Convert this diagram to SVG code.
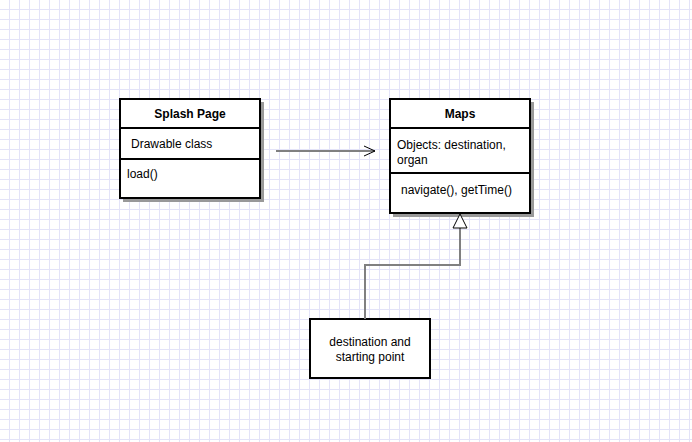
<svg xmlns="http://www.w3.org/2000/svg" width="692" height="442" viewBox="0 0 692 442">
<defs>
<pattern id="grid" width="10" height="10" patternUnits="userSpaceOnUse" x="0" y="0">
<path d="M9.5 0V10M0 9.5H10" fill="none" stroke="#e3e3f8" stroke-width="1"/>
</pattern>
<marker id="open" markerWidth="14" markerHeight="12" refX="12" refY="6" orient="auto" markerUnits="userSpaceOnUse">
<path d="M1 1L12 6L1 11" fill="none" stroke="#000" stroke-width="1"/>
</marker>
<marker id="tri" markerWidth="18" markerHeight="16" refX="15" refY="8" orient="auto" markerUnits="userSpaceOnUse">
<path d="M1 1L15 8L1 15Z" fill="#fff" stroke="#000" stroke-width="1"/>
</marker>
</defs>
<style>
.box{fill:#fff;stroke:#000;stroke-width:2}
.shadow{fill:#999}
.sep{stroke:#000;stroke-width:2}
.t{font-family:"Liberation Sans",Arial,sans-serif;font-size:12px;fill:#000}
.b{font-weight:bold}
.conn{fill:none;stroke:#808080;stroke-width:2}
</style>
<rect width="692" height="442" fill="#fff"/>
<rect width="692" height="442" fill="url(#grid)"/>
<g id="splash">
<rect class="shadow" x="123" y="102" width="141" height="100"/>
<rect class="box" x="120" y="99" width="140" height="99"/>
<line class="sep" x1="120" y1="128" x2="260" y2="128"/>
<line class="sep" x1="120" y1="159" x2="260" y2="159"/>
<text class="t b" x="190" y="118" text-anchor="middle">Splash Page</text>
<text class="t" x="131" y="148">Drawable class</text>
<text class="t" x="127" y="178">load()</text>
</g>
<g id="maps">
<rect class="shadow" x="393" y="102" width="141" height="115"/>
<rect class="box" x="390" y="99" width="140" height="114"/>
<line class="sep" x1="390" y1="128" x2="530" y2="128"/>
<line class="sep" x1="390" y1="173" x2="530" y2="173"/>
<text class="t b" x="460" y="118" text-anchor="middle">Maps</text>
<text class="t" x="397" y="149">Objects: destination,</text>
<text class="t" x="397" y="164">organ</text>
<text class="t" x="401" y="194">navigate(), getTime()</text>
</g>
<g id="dest">
<rect class="box" x="310" y="319" width="120" height="59"/>
<text class="t" x="370" y="346" text-anchor="middle">destination and</text>
<text class="t" x="370" y="361" text-anchor="middle">starting point</text>
</g>
<g id="connectors">
<path class="conn" d="M276 151H375" marker-end="url(#open)"/>
<path class="conn" d="M365 319V265H460V214" marker-end="url(#tri)"/>
</g>
</svg>
